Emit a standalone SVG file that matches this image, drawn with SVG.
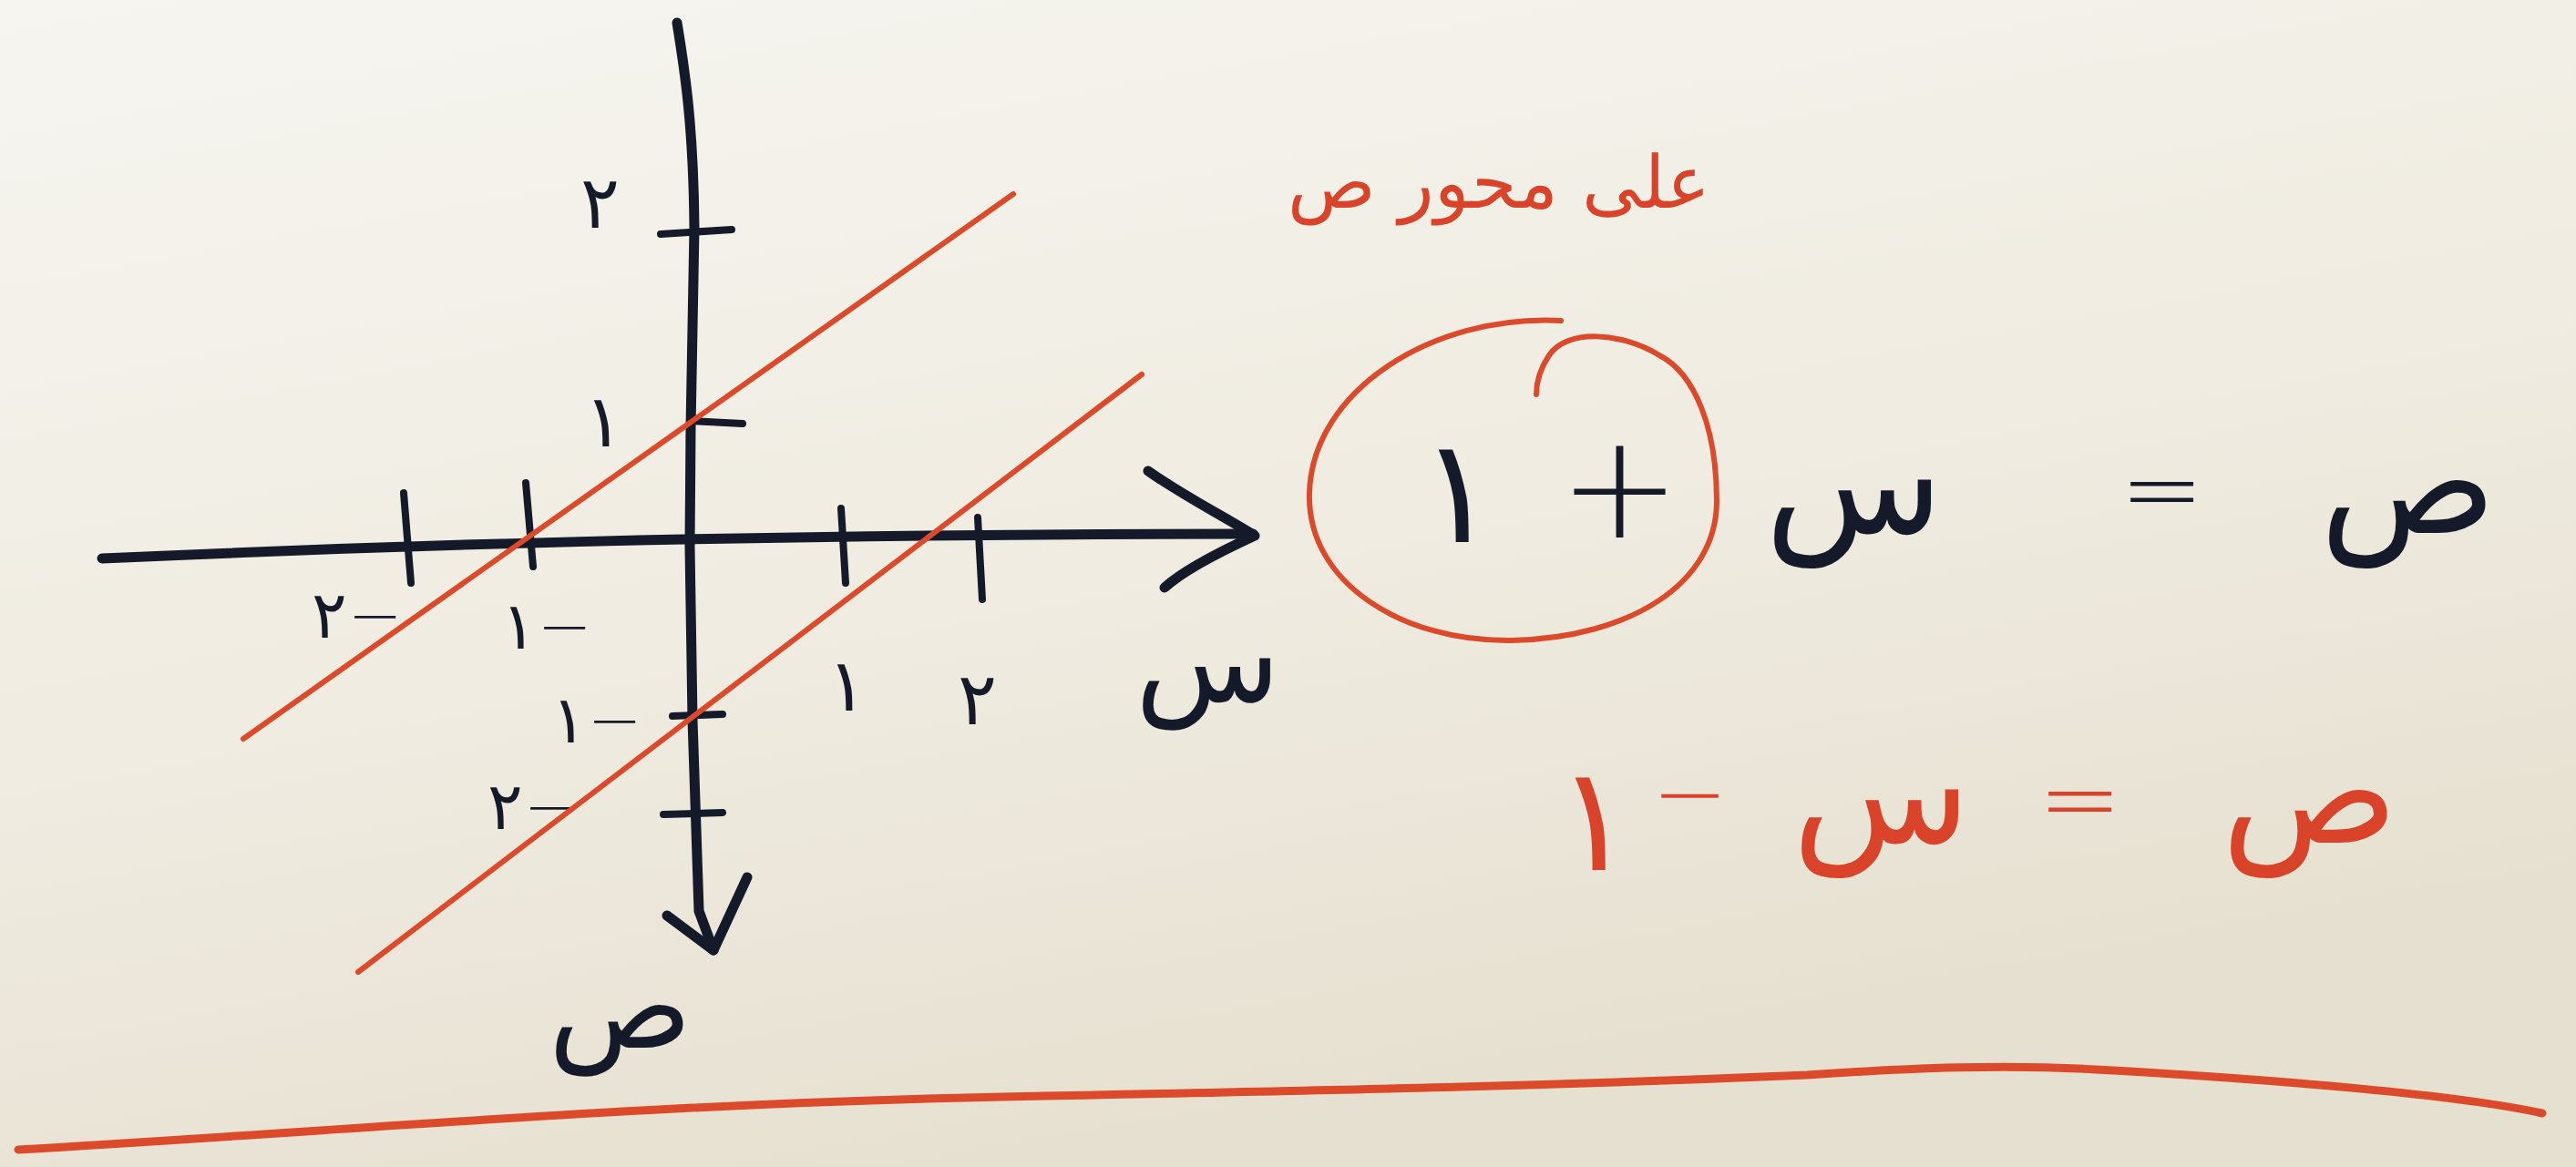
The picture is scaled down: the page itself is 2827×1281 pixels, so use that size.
<svg xmlns="http://www.w3.org/2000/svg" width="2827" height="1281" viewBox="0 0 2827 1281">
<defs>
<linearGradient id="bg" x1="0" y1="0" x2="0.4" y2="1">
<stop offset="0" stop-color="#f6f5f0"/>
<stop offset="0.6" stop-color="#efebe0"/>
<stop offset="1" stop-color="#e6e0d0"/>
</linearGradient>
<style>
.ink{fill:none;stroke:#141a2a;stroke-width:11;stroke-linecap:round;stroke-linejoin:round}
.tick{fill:none;stroke:#141a2a;stroke-width:8;stroke-linecap:round}
.red{fill:none;stroke:#dc4a2c;stroke-width:6;stroke-linecap:round;stroke-linejoin:round}
.lbl{font-family:"DejaVu Sans",sans-serif;font-weight:300;fill:#141a2a;text-anchor:middle}
.neg{letter-spacing:-8px}
.rlbl{font-family:"DejaVu Sans",sans-serif;font-weight:300;fill:#d9432a;text-anchor:middle}
</style>
</defs>
<rect width="2827" height="1281" fill="url(#bg)"/>

<g id="axes">
<path class="ink" d="M 743 25 C 752 80, 761 140, 762 250 L 758 470 L 757 600 L 760 790 L 767 1000 L 783 1043"/>
<path class="ink" d="M 732 1005 L 783 1043 L 820 963"/>
<path class="ink" d="M 112 613 C 400 600, 800 586, 1375 586"/>
<path class="ink" d="M 1260 517 C 1300 545, 1340 565, 1377 588 C 1340 605, 1300 625, 1278 645"/>
</g>

<g id="ticks">
<path class="tick" d="M 725 257 L 803 252"/>
<path class="tick" d="M 757 462 L 815 465"/>
<path class="tick" d="M 738 786 L 793 784"/>
<path class="tick" d="M 728 894 L 793 892"/>
<path class="tick" d="M 443 541 L 451 640"/>
<path class="tick" d="M 577 530 L 585 622"/>
<path class="tick" d="M 923 558 L 928 640"/>
<path class="tick" d="M 1073 568 L 1078 658"/>
</g>

<g id="tick-labels">
<text class="lbl" x="658" y="250" font-size="80">٢</text>
<text class="lbl" x="662" y="490" font-size="80">١</text>
<text class="lbl neg" x="655" y="815" font-size="72" direction="ltr" unicode-bidi="bidi-override">١−</text>
<text class="lbl neg" x="585" y="910" font-size="72" direction="ltr" unicode-bidi="bidi-override">٢−</text>
<text class="lbl neg" x="392" y="700" font-size="72" direction="ltr" unicode-bidi="bidi-override">٢−</text>
<text class="lbl neg" x="600" y="712" font-size="72" direction="ltr" unicode-bidi="bidi-override">١−</text>
<text class="lbl" x="929" y="780" font-size="80">١</text>
<text class="lbl" x="1072" y="795" font-size="80">٢</text>
</g>

<g id="axis-labels">
<text class="lbl" x="1325" y="770" font-size="130">س</text>
<text class="lbl" x="680" y="1150" font-size="130">ص</text>
</g>

<g id="lines">
<path class="red" d="M 267 811 L 1112 213"/>
<path class="red" d="M 393 1067 L 1253 411"/>
</g>

<g id="title">
<text class="rlbl" x="1645" y="228" font-size="80" direction="rtl">على محور ص</text>
</g>

<g id="equation1">
<text class="lbl" font-size="160"><tspan x="2668" y="585">ص</tspan> <tspan x="2398" y="575" font-size="110">=</tspan> <tspan x="2060" y="585">س</tspan> <tspan x="1803" y="590">+</tspan> <tspan x="1600" y="595">١</tspan></text>
<path class="red" d="M 1713 352 C 1570 345, 1440 430, 1437 541 C 1434 640, 1540 705, 1659 703 C 1790 700, 1884 640, 1884 550 C 1884 470, 1860 410, 1821 390 C 1780 365, 1720 360, 1700 390 C 1690 405, 1686 420, 1686 433"/>
</g>

<g id="equation2">
<text class="rlbl" font-size="160"><tspan x="2560" y="925">ص</tspan> <tspan x="2308" y="915" font-size="110">=</tspan> <tspan x="2090" y="925">س</tspan> <tspan x="1880" y="905" font-size="100">−</tspan> <tspan x="1750" y="955">١</tspan></text>
</g>

<g id="underline">
<path class="red" style="stroke-width:9" d="M 20 1262 C 400 1240, 700 1212, 1100 1204 S 1700 1192, 1983 1180 C 2100 1172, 2200 1168, 2300 1174 C 2500 1185, 2700 1202, 2790 1222"/>
</g>
</svg>
